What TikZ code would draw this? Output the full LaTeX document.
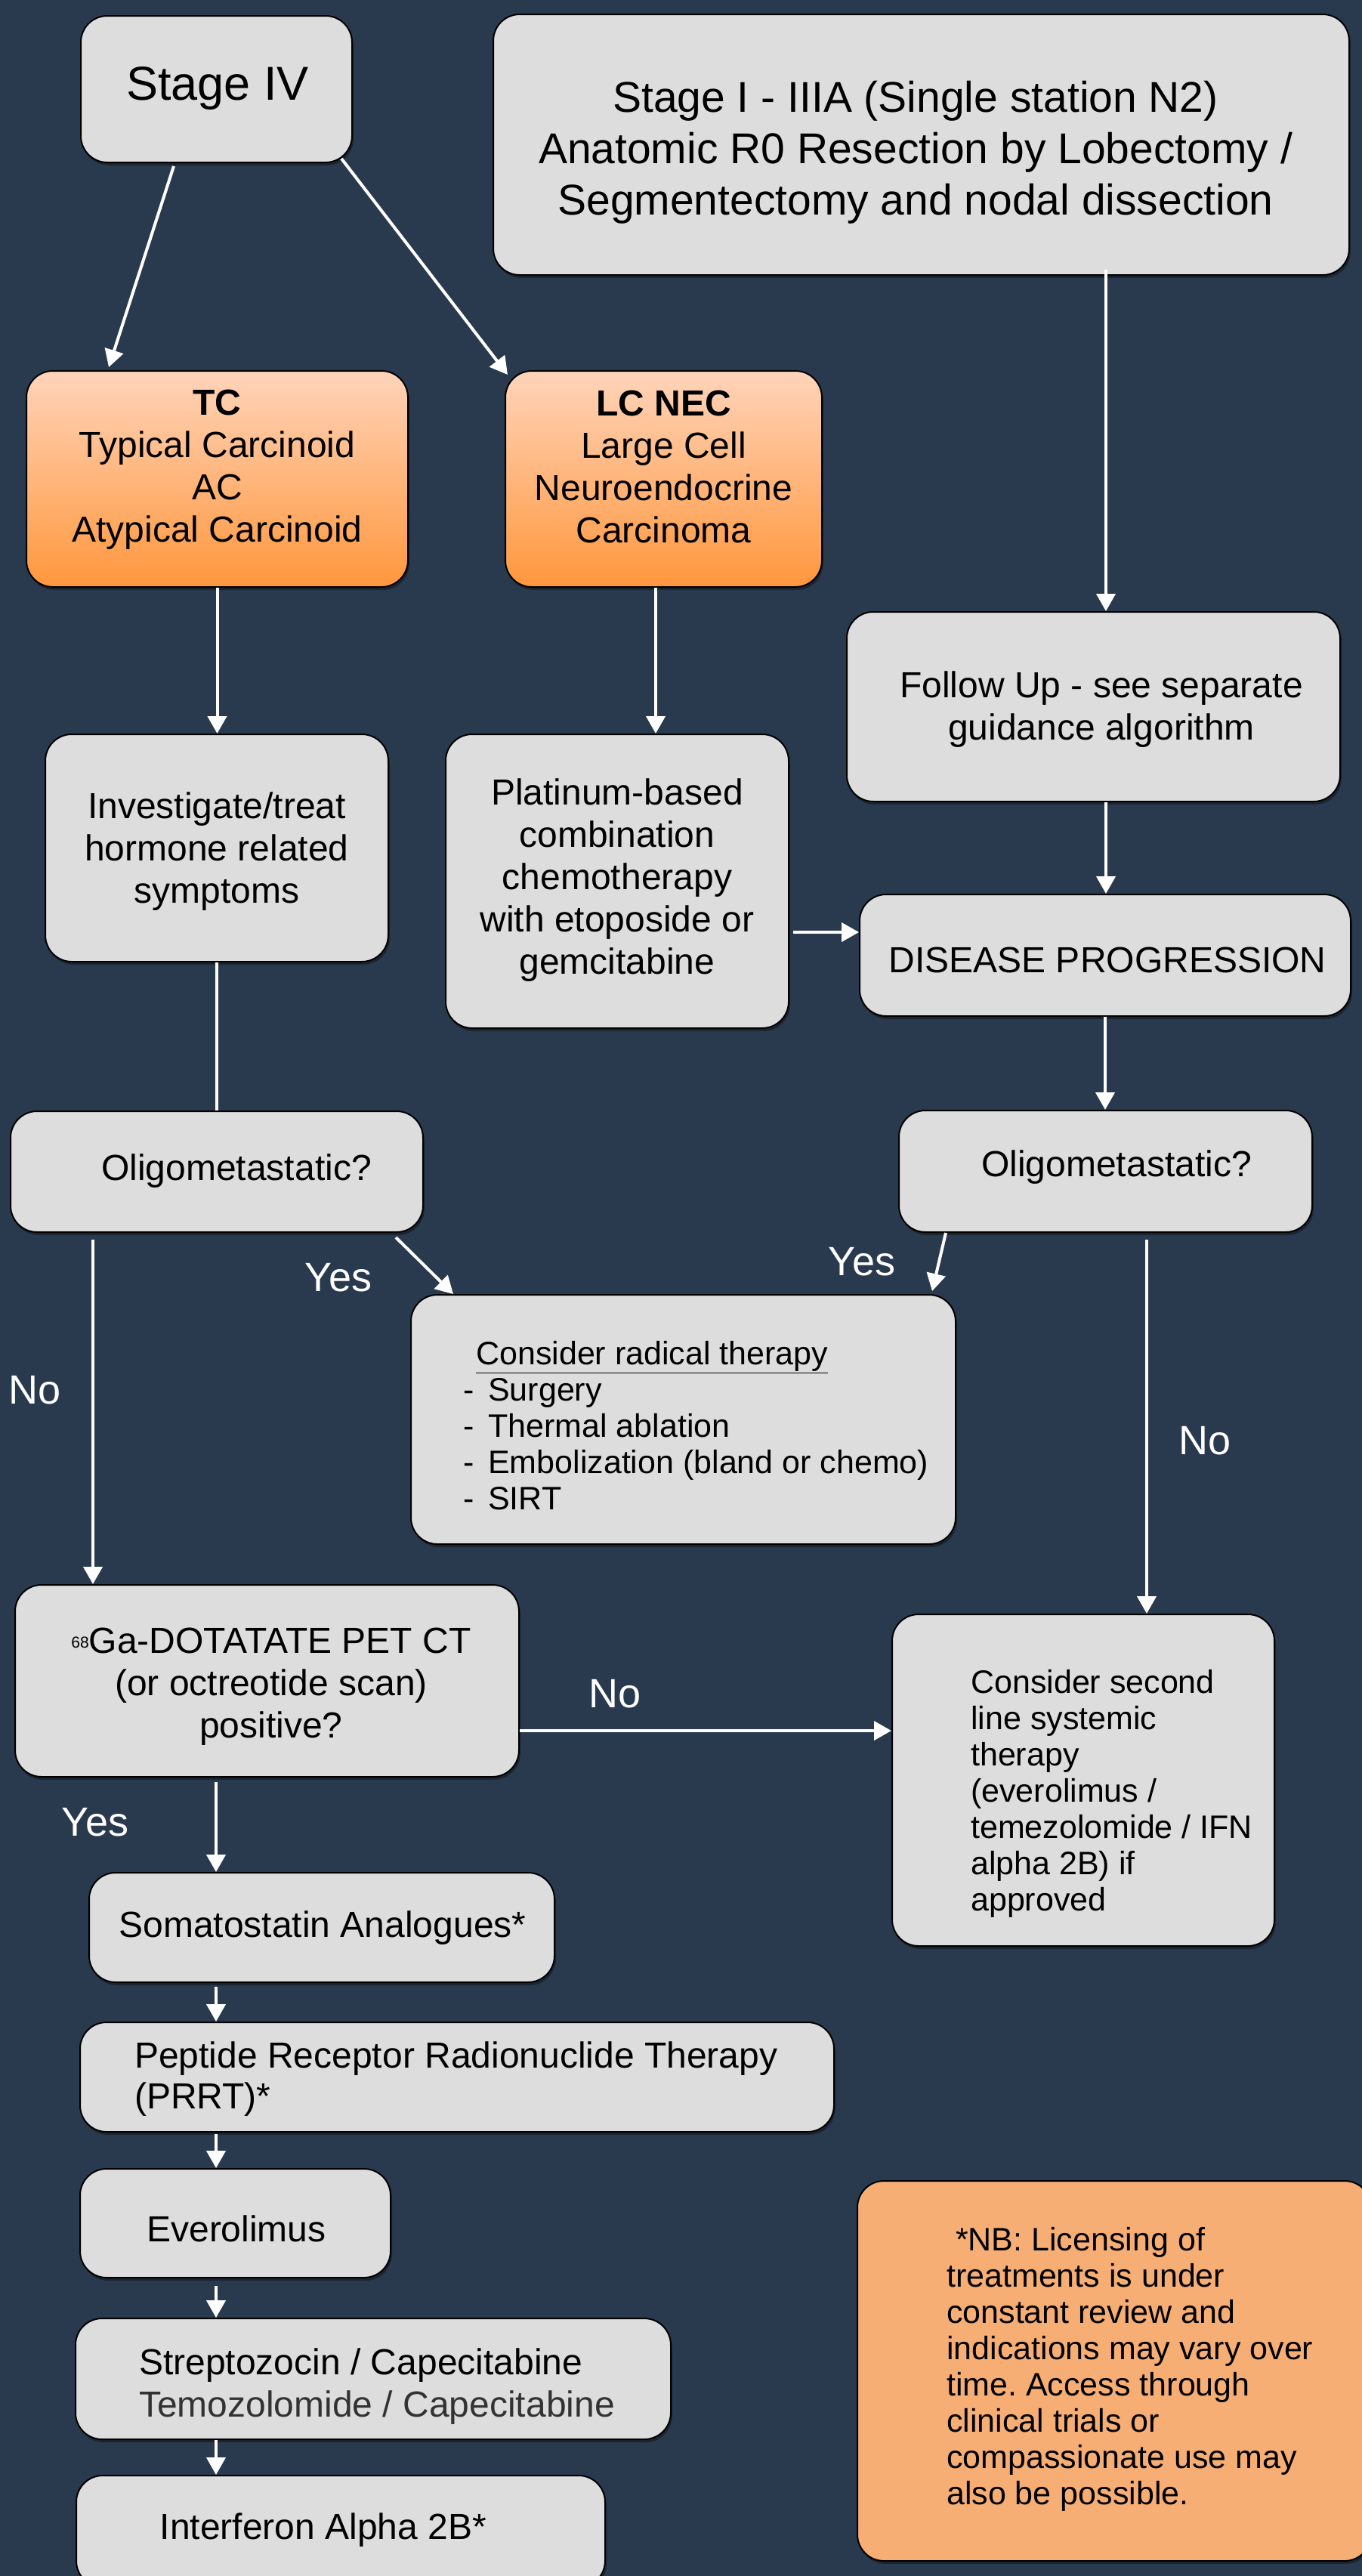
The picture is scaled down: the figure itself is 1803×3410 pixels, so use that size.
\documentclass[tikz,border=0pt]{standalone}
\usepackage{fontspec}
\setmainfont{Liberation Sans}
\usetikzlibrary{arrows.meta,calc,shadows}
\frenchspacing
\definecolor{bgcol}{HTML}{2A3A4E}
\definecolor{boxgray}{HTML}{DDDDDD}
\definecolor{nbfill}{HTML}{F7AE74}
\definecolor{orangetop}{HTML}{FFD4BA}
\definecolor{orangebot}{HTML}{FF973D}
\definecolor{strepgray}{HTML}{333333}
\tikzset{
  box/.style={draw=black, line width=2pt, rounded corners=35pt, fill=boxgray, inner sep=0pt,
    drop shadow={shadow xshift=2pt, shadow yshift=-4pt, opacity=0.35, fill=black}},
  orangebox/.style={box, top color=orangetop, bottom color=orangebot},
  nbbox/.style={box, fill=nbfill},
  arr/.style={draw=white, line width=4pt, -{Triangle[width=25pt,length=23pt]}},
  plainline/.style={draw=white, line width=4pt},
  txt/.style={inner sep=0pt, align=center, text=black, yshift=-4pt, font=\fontsize{48}{56}\selectfont},
  smalltxt/.style={inner sep=0pt, align=left, text=black, yshift=-3pt, font=\fontsize{43}{48}\selectfont, anchor=west},
  lbl/.style={inner sep=0pt, text=white, font=\fontsize{54}{60}\selectfont},
}
\begin{document}
\begin{tikzpicture}[x=1pt,y=-1pt]
\useasboundingbox (0,0) rectangle (1803,3410);
\fill[bgcol] (0,0) rectangle (1803,3410);
\clip (0,0) rectangle (1803,3410);

% boxes
\node[box, minimum width=359pt, minimum height=194pt] (stage4) at (286.5,118) {};
\node[box, minimum width=1133pt, minimum height=345pt] (stage1) at (1219.5,191.5) {};
\node[orangebox, minimum width=505pt, minimum height=286pt] (tc) at (287.5,634) {};
\node[orangebox, minimum width=419pt, minimum height=286pt] (lc) at (878.5,634) {};
\node[box, minimum width=653pt, minimum height=251pt] (followup) at (1447.5,935.5) {};
\node[box, minimum width=454pt, minimum height=301pt] (investigate) at (287,1122.5) {};
\node[box, minimum width=454pt, minimum height=389pt] (platinum) at (817,1166.5) {};
\node[box, minimum width=650pt, minimum height=161pt] (disease) at (1463,1264.5) {};
\node[box, minimum width=546pt, minimum height=160pt] (oligoL) at (287,1551) {};
\node[box, minimum width=547pt, minimum height=161pt] (oligoR) at (1463.5,1550.5) {};
\node[box, minimum width=721pt, minimum height=330pt] (radical) at (904.5,1879) {};
\node[box, minimum width=667pt, minimum height=254pt] (ga) at (353.5,2225) {};
\node[box, minimum width=506pt, minimum height=439pt] (second) at (1434,2356.5) {};
\node[box, minimum width=616pt, minimum height=145pt] (soma) at (426,2551.5) {};
\node[box, minimum width=998pt, minimum height=145pt] (prrt) at (605,2749.5) {};
\node[box, minimum width=411pt, minimum height=144pt] (evero) at (311.5,2943) {};
\node[box, minimum width=788pt, minimum height=160pt] (strepto) at (494,3149) {};
\node[box, minimum width=700pt, minimum height=148pt] (interferon) at (451,3351) {};
\node[nbbox, minimum width=680pt, minimum height=503pt] (nb) at (1475,3138.5) {};

% texts
\node[txt, font=\fontsize{63}{70}\selectfont] (stage4-t) at (288,113) {Stage IV};
\node[txt, font=\fontsize{57}{68}\selectfont] (stage1-t) at (1212,198) {Stage I - IIIA (Single station N2)\\Anatomic R0 Resection by Lobectomy /\\Segmentectomy and nodal dissection};
\node[txt] (tc-t) at (287.5,618) {\textbf{TC}\\Typical Carcinoid\\AC\\Atypical Carcinoid};
\node[txt] (lc-t) at (878.5,614) {\textbf{LC NEC}\\Large Cell\\Neuroendocrine\\Carcinoma};
\node[txt] (followup-t) at (1458,935) {Follow Up - see separate\\guidance algorithm};
\node[txt] (investigate-t) at (287,1123) {Investigate/treat\\hormone related\\symptoms};
\node[txt] (platinum-t) at (817,1161) {Platinum-based\\combination\\chemotherapy\\with etoposide or\\gemcitabine};
\node[txt] (disease-t) at (1466,1267) {DISEASE PROGRESSION};
\node[txt] (oligoL-t) at (313,1546) {Oligometastatic?};
\node[txt] (oligoR-t) at (1478,1541) {Oligometastatic?};
\node[smalltxt] (radical-t) at (613,1884) {\hspace{17pt}\underline{Consider radical therapy}\\\makebox[33pt][l]{-}Surgery\\\makebox[33pt][l]{-}Thermal ablation\\\makebox[33pt][l]{-}Embolization (bland or chemo)\\\makebox[33pt][l]{-}SIRT};
\node[txt] (ga-t) at (359,2229) {\raisebox{7pt}{\fontsize{21}{21}\selectfont 68}Ga-DOTATATE PET CT\\(or octreotide scan)\\positive?};
\node[smalltxt] (second-t) at (1285,2371) {Consider second\\line systemic\\therapy\\(everolimus /\\temezolomide / IFN\\alpha 2B) if\\approved};
\node[txt] (soma-t) at (427,2548) {Somatostatin Analogues*};
\node[txt, align=left, anchor=west, font=\fontsize{48}{54}\selectfont] (prrt-t) at (178,2748) {Peptide Receptor Radionuclide Therapy\\(PRRT)*};
\node[txt] (evero-t) at (313,2946) {Everolimus};
\node[txt, align=left, anchor=west] (strepto-t) at (184,3155) {Streptozocin / Capecitabine\\\textcolor{strepgray}{Temozolomide / Capecitabine}};
\node[txt] (interferon-t) at (428,3345) {Interferon Alpha 2B*};
\node[smalltxt] (nb-t) at (1253,3133) {\hspace{12pt}*NB: Licensing of\\treatments is under\\constant review and\\indications may vary over\\time. Access through\\clinical trials or\\compassionate use may\\also be possible.};

% labels
\node[lbl] (yes1) at (448,1691) {Yes};
\node[lbl] (yes2) at (1141,1670) {Yes};
\node[lbl] (no1) at (46,1840) {No};
\node[lbl] (no2) at (1595,1907) {No};
\node[lbl] (no3) at (814,2242) {No};
\node[lbl] (yes3) at (126,2412) {Yes};

% connectors
\draw[arr] ($(stage4.south)+(-56.5,4)$) -- ($(tc.north)+(-143.5,-4)$);
\draw[arr] ($(stage4.south east)+(-15,-6)$) -- ($(lc.north west)+(4,6)$);
\draw[arr] ($(stage1.south)+(244.5,-8)$) -- ($(followup.north)+(16.5,0)$);
\draw[arr] (tc.south) -- (tc.south |- investigate.north);
\draw[arr] ($(lc.south)+(-10.5,0)$) -- ($(platinum.north)+(51,0)$);
\draw[arr] ($(followup.south)+(16.5,0)$) -- ($(disease.north)+(1,0)$);
\draw[arr] ($(platinum.east)+(5,67.5)$) -- ($(disease.west)+(0,-30.5)$);
\draw[arr] (disease.south) -- (disease.south |- oligoR.north);
\draw[plainline] (investigate.south) -- (oligoL.north);
\draw[arr] ($(oligoL.south east)+(-37,6)$) -- ($(radical.north west)+(57,0)$);
\draw[arr] ($(oligoR.south west)+(63,0)$) -- ($(radical.north east)+(-32,-4)$);
\draw[arr] ($(oligoL.south west)+(110,9)$) -- ($(ga.north west)+(104,0)$);
\draw[arr] ($(oligoR.south)+(54.5,9)$) -- ($(second.north)+(84,0)$);
\draw[arr] ($(ga.east)+(0,66)$) -- ($(second.west)+(0,-65.5)$);
\draw[arr] ($(ga.south)+(-67.5,6)$) -- ($(soma.north)+(-140,0)$);
\draw[arr] ($(soma.south)+(-140,5)$) -- ($(prrt.north)+(-319,0)$);
\draw[arr] ($(prrt.south)+(-319,2)$) -- ($(evero.north)+(-25.5,0)$);
\draw[arr] ($(evero.south)+(-25.5,10)$) -- ($(strepto.north)+(-208,0)$);
\draw[arr] ($(strepto.south)+(-208,0)$) -- ($(interferon.north)+(-165,0)$);
\end{tikzpicture}
\end{document}
